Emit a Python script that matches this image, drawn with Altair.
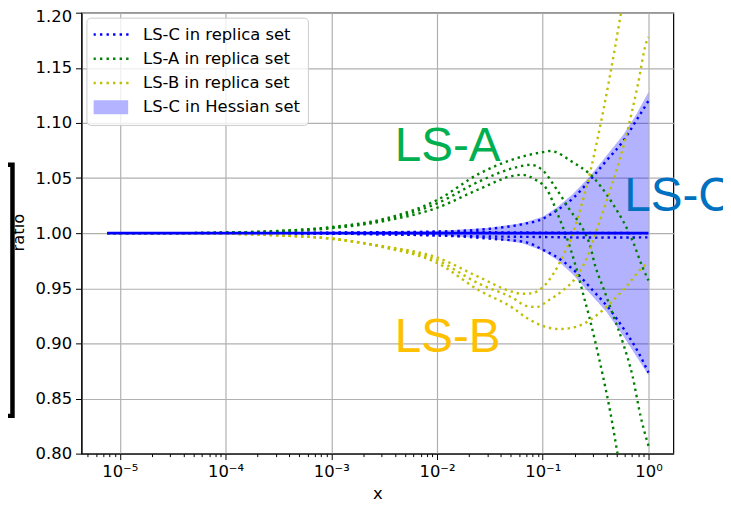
import altair as alt
import pandas as pd

# ---------------- data (x given as log10 x, y = ratio) ----------------
SERIES_NAMES = ["LS-C in replica set", "LS-A in replica set", "LS-B in replica set", "LS-C in Hessian set"]
SERIES_COLORS = ["#0000ff", "#008000", "#bfbf00", "#b3b3ff"]
REPLICA_NAMES = SERIES_NAMES[:3]
LINE_COLORS = ["#0000ff", "#008000", "#bfbf00"]

SOLID_LX = [-5.12, 0.0]
SOLID_Y = [1.0, 1.0]

C_UP_LX = [-5.12, -4, -3, -2, -1.5, -1.2, -1.0, -0.87, -0.71, -0.56, -0.40, -0.24, -0.12, 0.0]
C_UP_Y = [1.0, 1.0, 1.0005, 1.0015, 1.004, 1.008, 1.013, 1.0205, 1.032, 1.0475, 1.0655, 1.0835, 1.1015, 1.12]
C_LO_LX = [-5.12, -4, -3, -2, -1.5, -1.155, -1.0, -0.845, -0.685, -0.526, -0.376, -0.216, -0.094, 0.0]
C_LO_Y = [1.0, 1.0, 0.9995, 0.998, 0.995, 0.9917, 0.985, 0.977, 0.9645, 0.948, 0.932, 0.9105, 0.8915, 0.8735]
C_M1_LX = [-5.12, -3, -2, -1, 0.0]
C_M1_Y = [1.0, 1.0003, 1.001, 1.0005, 1.0]
C_M2_LX = [-5.12, -3, -2, -1.5, -1, -0.5, 0.0]
C_M2_Y = [1.0, 0.9995, 0.998, 0.997, 0.9965, 0.996, 0.9962]

BAND_LX = [-5.12, -4, -3, -2, -1.5, -1.2, -1.0, -0.87, -0.72, -0.56, -0.40, -0.24, -0.12, 0.0]
BAND_HI = [1.0, 1.0, 1.0006, 1.002, 1.005, 1.009, 1.015, 1.023, 1.035, 1.051, 1.07, 1.089, 1.107, 1.128]
BAND_LO = [1.0, 1.0, 0.9994, 0.998, 0.995, 0.991, 0.984, 0.976, 0.963, 0.946, 0.929, 0.907, 0.889, 0.871]

A1_LX = [-5.12, -4.5, -4, -3.5, -3, -2.5, -2, -1.6, -1.28, -1.0, -0.93, -0.71, -0.56, -0.34, -0.15, -0.056, 0.0]
A1_Y = [1.0, 1.0, 1.0005, 1.002, 1.0055, 1.013, 1.030, 1.054, 1.067, 1.0735, 1.0745, 1.064, 1.054, 1.027, 0.993, 0.969, 0.957]
A2_LX = [-5.12, -4.5, -4, -3.5, -3, -2.5, -2, -1.6, -1.28, -1.12, -1.0, -0.87, -0.75, -0.61, -0.56, -0.50, -0.43, -0.34, -0.24, -0.15, -0.075, 0.0]
A2_Y = [1.0, 1.0, 1.0005, 1.002, 1.005, 1.012, 1.027, 1.047, 1.059, 1.062, 1.057, 1.040, 1.022, 1.002, 0.991, 0.969, 0.951, 0.927, 0.900, 0.870, 0.834, 0.807]
A3_LX = [-5.12, -4.5, -4, -3.5, -3, -2.5, -2, -1.6, -1.28, -1.2, -1.06, -0.97, -0.845, -0.78, -0.685, -0.61, -0.56, -0.50, -0.43, -0.36, -0.30, -0.25]
A3_Y = [1.0, 1.0, 1.0005, 1.0015, 1.0045, 1.011, 1.023, 1.040, 1.052, 1.053, 1.048, 1.041, 1.014, 0.998, 0.969, 0.942, 0.924, 0.900, 0.870, 0.837, 0.804, 0.775]

B1_LX = [-5.12, -4.5, -4, -3.5, -3, -2.5, -2, -1.6, -1.28, -1.2, -1.1, -1.0, -0.9, -0.8, -0.73, -0.65, -0.55, -0.48, -0.37, -0.26, -0.2]
B1_Y = [1.0, 1.0, 0.9995, 0.998, 0.995, 0.988, 0.978, 0.960, 0.9466, 0.945, 0.9455, 0.951, 0.963, 0.981, 0.996, 1.02, 1.056, 1.0865, 1.14, 1.2, 1.235]
B2_LX = [-5.12, -4.5, -4, -3.5, -3, -2.5, -2, -1.6, -1.28, -1.155, -1.06, -0.94, -0.81, -0.685, -0.573, -0.516, -0.4, -0.3, -0.216, -0.1, -0.019, 0.0]
B2_Y = [1.0, 1.0, 0.9995, 0.998, 0.995, 0.9875, 0.9755, 0.954, 0.941, 0.934, 0.933, 0.9394, 0.948, 0.960, 0.980, 0.9955, 1.028, 1.058, 1.0865, 1.135, 1.1736, 1.178]
B3_LX = [-5.12, -4.5, -4, -3.5, -3, -2.5, -2, -1.6, -1.28, -1.155, -1.03, -0.845, -0.685, -0.526, -0.376, -0.216, -0.056, 0.0]
B3_Y = [1.0, 1.0, 0.9995, 0.998, 0.995, 0.987, 0.973, 0.948, 0.932, 0.9233, 0.917, 0.913, 0.915, 0.923, 0.935, 0.951, 0.969, 0.973]

ANNOT_TEXT = ["LS-A", "LS-B", "LS-C"]
ANNOT_LX = [-2.40, -2.40, -0.23]
ANNOT_Y = [1.0655, 0.8924, 1.0205]
ANNOT_COLOR = ["#00b050", "#ffc000", "#0070c0"]

X_MAJOR = [1e-5, 1e-4, 1e-3, 1e-2, 1e-1, 1.0]
X_MINOR = [m * 10.0 ** e for e in range(-6, 1) for m in range(2, 10)]
Y_TICKS = [0.80, 0.85, 0.90, 0.95, 1.00, 1.05, 1.10, 1.15, 1.20]

# ---------------- tables ----------------
def rows(curve, group, lx, ys):
    return [{"curve": curve, "group": group, "x": 10.0 ** a, "y": b} for a, b in zip(lx, ys)]

lines_df = pd.DataFrame(
    rows("c_up", SERIES_NAMES[0], C_UP_LX, C_UP_Y)
    + rows("c_lo", SERIES_NAMES[0], C_LO_LX, C_LO_Y)
    + rows("c_m1", SERIES_NAMES[0], C_M1_LX, C_M1_Y)
    + rows("c_m2", SERIES_NAMES[0], C_M2_LX, C_M2_Y)
    + rows("a1", SERIES_NAMES[1], A1_LX, A1_Y)
    + rows("a2", SERIES_NAMES[1], A2_LX, A2_Y)
    + rows("a3", SERIES_NAMES[1], A3_LX, A3_Y)
    + rows("b1", SERIES_NAMES[2], B1_LX, B1_Y)
    + rows("b2", SERIES_NAMES[2], B2_LX, B2_Y)
    + rows("b3", SERIES_NAMES[2], B3_LX, B3_Y)
)
band_df = pd.DataFrame({"x": [10.0 ** a for a in BAND_LX], "lo": BAND_LO, "hi": BAND_HI})
solid_df = pd.DataFrame({"x": [10.0 ** a for a in SOLID_LX], "y": SOLID_Y})
annot_df = pd.DataFrame({"text": ANNOT_TEXT, "x": [10.0 ** a for a in ANNOT_LX], "y": ANNOT_Y, "tcolor": ANNOT_COLOR})
# legend-only keys (placed outside the x domain and clipped away)
legend_df = pd.DataFrame({"group": SERIES_NAMES, "x": [1e-9] * 4, "y": [1.0] * 4})
box_df = pd.DataFrame({"k": [0]})

# legend symbol shapes: a row of dots for replica sets, a patch for the Hessian band
DOT_STARTS = [-1.0, -0.623, -0.246, 0.131, 0.508, 0.885]
DOT_PATH = " ".join(f"M{s:.3f},-0.07h0.137v0.14h-0.137z" for s in DOT_STARTS)
RECT_PATH = "M-1,-0.4H1V0.4H-1Z"
SHAPES = [DOT_PATH, DOT_PATH, DOT_PATH, RECT_PATH]

# ---------------- scales / axes ----------------
FONT = "DejaVu Sans"
FS = 16.5
xscale = alt.Scale(type="log", domain=[10 ** -5.362, 10 ** 0.235], nice=False)
yscale = alt.Scale(domain=[0.8, 1.2], nice=False, zero=False)

is_major = "abs(log(datum.value)/LN10 - round(log(datum.value)/LN10)) < 1e-6"
label_expr = (
    "datum.value === 1e-5 ? '10⁻⁵' : datum.value === 0.0001 ? '10⁻⁴' : "
    "datum.value === 0.001 ? '10⁻³' : datum.value === 0.01 ? '10⁻²' : "
    "datum.value === 0.1 ? '10⁻¹' : datum.value === 1 ? '10⁰' : ''"
)
xaxis = alt.Axis(
    title="x", values=X_MAJOR + X_MINOR, labelExpr=label_expr,
    tickSize={"condition": {"test": is_major, "value": 6}, "value": 3},
    gridOpacity={"condition": {"test": is_major, "value": 1}, "value": 0},
    gridColor="#b0b0b0", gridWidth=1.2, grid=True,
    labelFont=FONT, labelFontSize=FS, labelColor="black", labelPadding=4,
    titleFont=FONT, titleFontSize=FS, titleFontWeight="normal", titleColor="black", titlePadding=6,
    domainColor="black", tickColor="black", labelFlush=False, labelOverlap=False,
)
yaxis = alt.Axis(
    title="ratio", values=Y_TICKS, format=".2f",
    tickSize=6, gridColor="#b0b0b0", gridWidth=1.2,
    labelFont=FONT, labelFontSize=FS, labelColor="black", labelPadding=4,
    labelOffset={"condition": {"test": "datum.value > 1.19", "value": 4}, "value": 0},
    titleFont=FONT, titleFontSize=FS, titleFontWeight="normal", titleColor="black",
    titleAngle=270, titleX=-58.5, titleY=221, titleAlign="center", titleBaseline="alphabetic",
    domainColor="black", tickColor="black", labelFlush=False,
)

def X(field="x"):
    return alt.X(f"{field}:Q", scale=xscale, axis=xaxis, title="x")

def Y(field="y"):
    return alt.Y(f"{field}:Q", scale=yscale, axis=yaxis, title="ratio")

legend = alt.Legend(
    title=None, orient="none", legendX=5, legendY=5, direction="vertical",
    symbolSize=1225, symbolOpacity=1, symbolStrokeWidth=0,
    labelFont=FONT, labelFontSize=FS, labelColor="black",
    labelOffset=15, labelLimit=300, padding=7, rowPadding=4.4, clipHeight=20,
    strokeColor="#cccccc", fillColor="rgba(255,255,255,0.8)", cornerRadius=4,
)

band = alt.Chart(band_df).mark_area(color="#0000ff", opacity=0.3, clip=True).encode(
    x=X(), y=Y("lo"), y2="hi:Q"
)

dotted = alt.Chart(lines_df).mark_line(
    strokeDash=[2.4, 3.9], strokeWidth=2.4, interpolate="monotone", clip=True
).encode(
    x=X(), y=Y(),
    stroke=alt.Stroke("group:N", scale=alt.Scale(domain=REPLICA_NAMES, range=LINE_COLORS), legend=None),
    detail="curve:N",
    order=alt.Order("x:Q"),
)

solid = alt.Chart(solid_df).mark_line(color="#0000ff", strokeWidth=2.6, clip=True).encode(x=X(), y=Y())

keys = alt.Chart(legend_df).mark_point(filled=True, clip=True).encode(
    x=X(), y=Y(),
    color=alt.Color("group:N", scale=alt.Scale(domain=SERIES_NAMES, range=SERIES_COLORS), legend=legend),
    shape=alt.Shape("group:N", scale=alt.Scale(domain=SERIES_NAMES, range=SHAPES), legend=legend),
)

annot = alt.Chart(annot_df).mark_text(
    font="Liberation Sans", fontSize=48, align="left", baseline="alphabetic"
).encode(x=X(), y=Y(), text="text:N", fill=alt.Fill("tcolor:N", scale=None))

bracket = alt.Chart(box_df).mark_rect(fill="white", stroke="black", strokeWidth=4.5, clip=False).encode(
    x=alt.value(-80), x2=alt.value(-69.5), y=alt.value(153), y2=alt.value(406)
)

chart = (
    alt.layer(band, dotted, solid, keys, annot, bracket)
    .properties(
        width=596, height=444,
        autosize=alt.AutoSizeParams(type="none"),
        padding={"left": 74, "top": 3, "right": 50, "bottom": 50},
        background="white",
    )
    .configure_view(stroke="black", strokeWidth=1.2)
)

chart.save("out.html", embed_options={"renderer": "svg", "actions": False})
